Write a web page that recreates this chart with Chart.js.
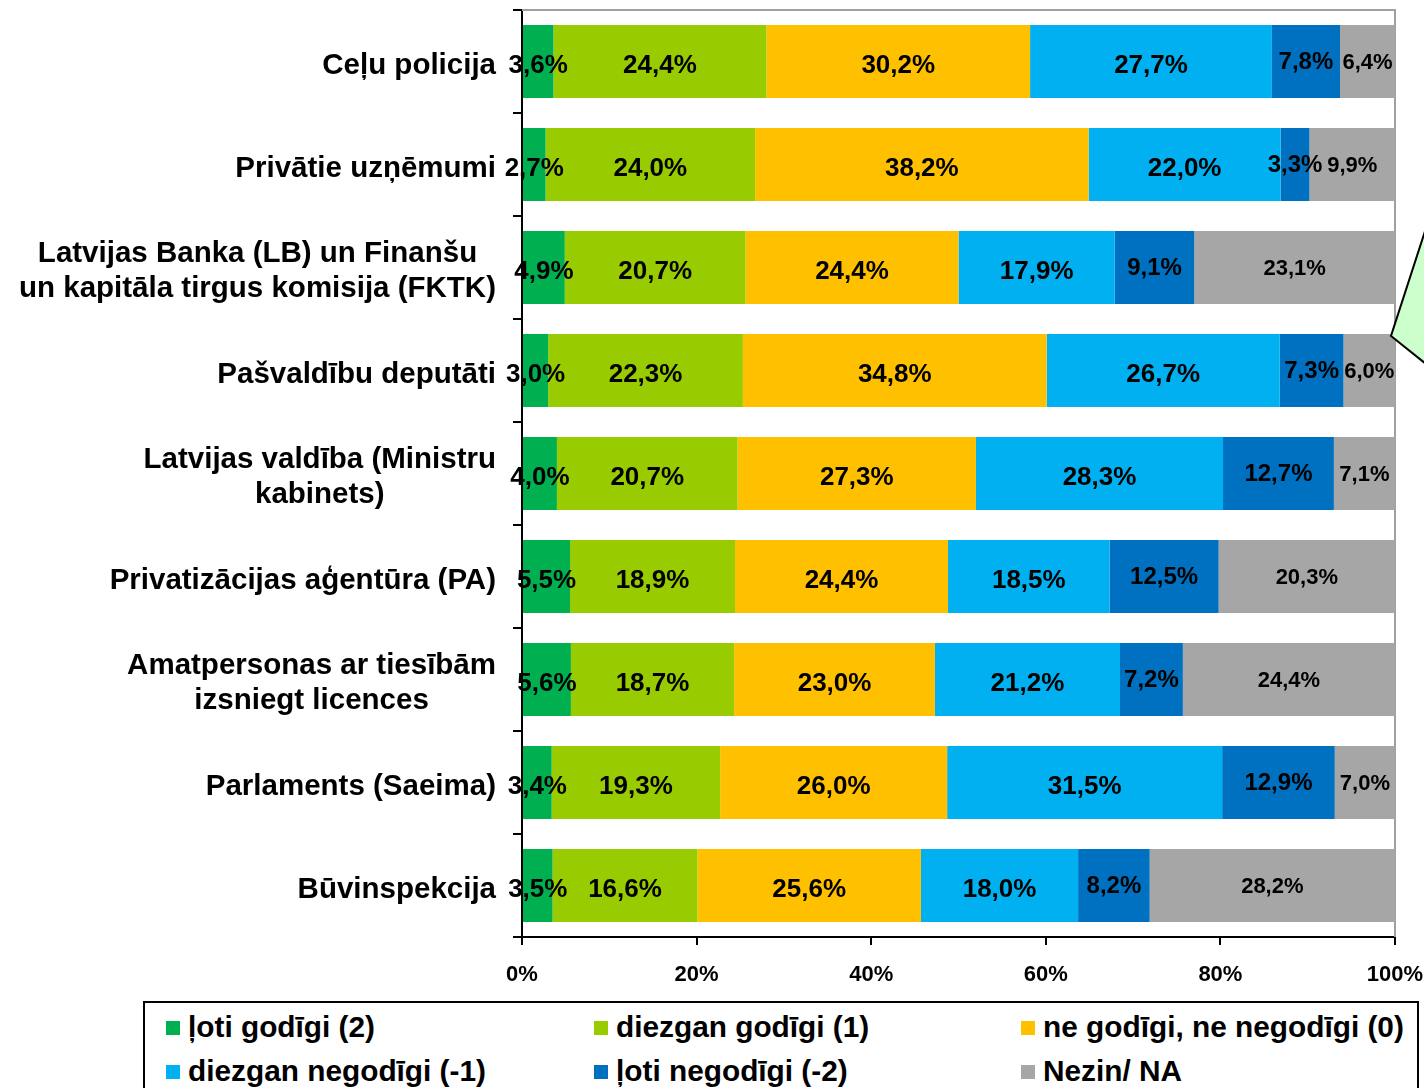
<!DOCTYPE html>
<html>
<head>
<meta charset="utf-8">
<script src="https://cdn.jsdelivr.net/npm/chart.js@4/dist/chart.umd.min.js"></script>
<style>
  body { margin: 0; background: #fff; overflow: hidden; }
  #wrap { position: relative; width: 1424px; height: 1088px; }
  #legend {
    position: absolute; left: 143px; top: 1001px; width: 1276px; height: 100px;
    border: 2px solid #000; box-sizing: border-box; background: #fff;
  }
  .item {
    position: absolute; display: flex; align-items: center; height: 40px;
    font: bold 29.8px "Liberation Sans", Arial, sans-serif; color: #000; white-space: nowrap;
  }
  .item span.box { width: 14px; height: 14px; margin-right: 8px; margin-top: 2px; }
</style>
</head>
<body>
<div id="wrap">
  <canvas id="chart" width="1424" height="1088"></canvas>
  <div id="legend"></div>
</div>
<script>
// ── Data ───────────────────────────────────────────────────────────────────
const CATEGORIES = [
  "Ceļu policija",
  "Privātie uzņēmumi",
  ["Latvijas Banka (LB) un Finanšu", "un kapitāla tirgus komisija (FKTK)"],
  "Pašvaldību deputāti",
  ["Latvijas valdība (Ministru", "kabinets)"],
  "Privatizācijas aģentūra (PA)",
  ["Amatpersonas ar tiesībām", "izsniegt licences"],
  "Parlaments (Saeima)",
  "Būvinspekcija",
];

const SERIES_NAMES = [
  "ļoti godīgi (2)",
  "diezgan godīgi (1)",
  "ne godīgi, ne negodīgi (0)",
  "diezgan negodīgi (-1)",
  "ļoti negodīgi (-2)",
  "Nezin/ NA",
];

const VERY_HONEST   = [3.6, 2.7, 4.9, 3.0, 4.0, 5.5, 5.6, 3.4, 3.5];
const FAIRLY_HONEST = [24.4, 24.0, 20.7, 22.3, 20.7, 18.9, 18.7, 19.3, 16.6];
const NEUTRAL       = [30.2, 38.2, 24.4, 34.8, 27.3, 24.4, 23.0, 26.0, 25.6];
const FAIRLY_DISHON = [27.7, 22.0, 17.9, 26.7, 28.3, 18.5, 21.2, 31.5, 18.0];
const VERY_DISHON   = [7.8, 3.3, 9.1, 7.3, 12.7, 12.5, 7.2, 12.9, 8.2];
const DONT_KNOW     = [6.4, 9.9, 23.1, 6.0, 7.1, 20.3, 24.4, 7.0, 28.2];

const X_TICKS = [0, 20, 40, 60, 80, 100];

// ── Style ──────────────────────────────────────────────────────────────────
const COLORS = ["#00B050", "#99CC00", "#FFC000", "#00B0F0", "#0070C0", "#A6A6A6"];
const LABEL_SIZES = [26, 26, 26, 26, 24, 22];
const FONT = "'Liberation Sans', Arial, sans-serif";
const CAT_FONT_SIZE = 29.5;
const CAT_LINE_H = 35;

const SERIES = [VERY_HONEST, FAIRLY_HONEST, NEUTRAL, FAIRLY_DISHON, VERY_DISHON, DONT_KNOW];

// ── Plugins ────────────────────────────────────────────────────────────────
const frameAndLabels = {
  id: "frameAndLabels",
  beforeDatasetsDraw(chart) {
    const { ctx, chartArea: a } = chart;
    ctx.save();
    ctx.strokeStyle = "#A0A0A0";
    ctx.lineWidth = 2;
    ctx.beginPath();
    ctx.moveTo(a.left, a.top);
    ctx.lineTo(a.right, a.top);
    ctx.lineTo(a.right, a.bottom);
    ctx.stroke();
    ctx.restore();
  },
  afterDatasetsDraw(chart) {
    const { ctx, chartArea: a } = chart;
    ctx.save();
    ctx.fillStyle = "#000";
    ctx.textAlign = "center";
    ctx.textBaseline = "middle";
    chart.data.datasets.forEach((ds, i) => {
      const meta = chart.getDatasetMeta(i);
      ctx.font = `bold ${LABEL_SIZES[i]}px ${FONT}`;
      meta.data.forEach((bar, j) => {
        const x0 = Math.max(bar.base, a.left);
        const x1 = Math.min(bar.x, a.right);
        const txt = ds.data[j].toFixed(1).replace(".", ",") + "%";
        const dy = i < 4 ? 4 : 1;
        ctx.fillText(txt, (x0 + x1) / 2, bar.y + dy);
      });
    });

    // category labels: block right-aligned to the axis, lines centred in the block
    const yScale = chart.scales.y;
    const right = yScale.right - 9 - 17;
    ctx.font = `bold ${CAT_FONT_SIZE}px ${FONT}`;
    CATEGORIES.forEach((cat, j) => {
      const lines = Array.isArray(cat) ? cat : [cat];
      const w = Math.max(...lines.map(l => ctx.measureText(l).width));
      const cx = right - w / 2;
      const cy = yScale.getPixelForTick(j) + 4;
      lines.forEach((l, k) => {
        ctx.fillText(l, cx, cy + (k - (lines.length - 1) / 2) * CAT_LINE_H);
      });
    });
    ctx.restore();
  },
  afterDraw(chart) {
    // callout shape at the right edge
    const { ctx } = chart;
    ctx.save();
    ctx.fillStyle = "#CCFFCC";
    ctx.strokeStyle = "#000";
    ctx.lineWidth = 2;
    ctx.beginPath();
    ctx.moveTo(1426, 228);
    ctx.lineTo(1391, 336);
    ctx.lineTo(1426, 364);
    ctx.closePath();
    ctx.fill();
    ctx.beginPath();
    ctx.moveTo(1426, 228);
    ctx.lineTo(1391, 336);
    ctx.lineTo(1426, 364);
    ctx.stroke();
    ctx.restore();
  },
};

// ── Chart ──────────────────────────────────────────────────────────────────
new Chart(document.getElementById("chart"), {
  type: "bar",
  data: {
    labels: CATEGORIES,
    datasets: SERIES.map((values, i) => ({
      label: SERIES_NAMES[i],
      data: values,
      backgroundColor: COLORS[i],
      borderWidth: 0,
      barPercentage: 0.71,
      categoryPercentage: 1,
    })),
  },
  options: {
    indexAxis: "y",
    responsive: false,
    animation: false,
    layout: { padding: { top: 10, right: 29, bottom: 0, left: 0 } },
    plugins: { legend: { display: false }, tooltip: { enabled: false } },
    scales: {
      x: {
        stacked: true,
        min: 0,
        max: 100,
        afterBuildTicks: (s) => { s.ticks = X_TICKS.map(v => ({ value: v })); },
        afterFit: (s) => { s.height = 151; s.paddingLeft = 0; s.paddingRight = 0; },
        ticks: {
          color: "#000",
          padding: 17,
          font: { family: FONT, size: 22, weight: "bold" },
          callback: (v) => v + "%",
        },
        grid: { drawOnChartArea: false, tickLength: 8, color: "#000", lineWidth: 2 },
        border: { color: "#000", width: 2 },
      },
      y: {
        stacked: true,
        afterFit: (s) => { s.width = 522; s.paddingTop = 0; s.paddingBottom = 0; },
        ticks: { display: false },
        grid: { offset: true, drawOnChartArea: false, tickLength: 9, color: "#000", lineWidth: 2 },
        border: { color: "#000", width: 2 },
      },
    },
  },
  plugins: [frameAndLabels],
});

// ── Legend ─────────────────────────────────────────────────────────────────
const legend = document.getElementById("legend");
const COLS = [21, 449, 876];
const ROWS = [4, 48];
SERIES_NAMES.forEach((name, i) => {
  const el = document.createElement("div");
  el.className = "item";
  el.style.left = COLS[i % 3] + "px";
  el.style.top = ROWS[Math.floor(i / 3)] + "px";
  el.innerHTML = `<span class="box" style="background:${COLORS[i]}"></span>${name}`;
  legend.appendChild(el);
});
</script>
</body>
</html>
